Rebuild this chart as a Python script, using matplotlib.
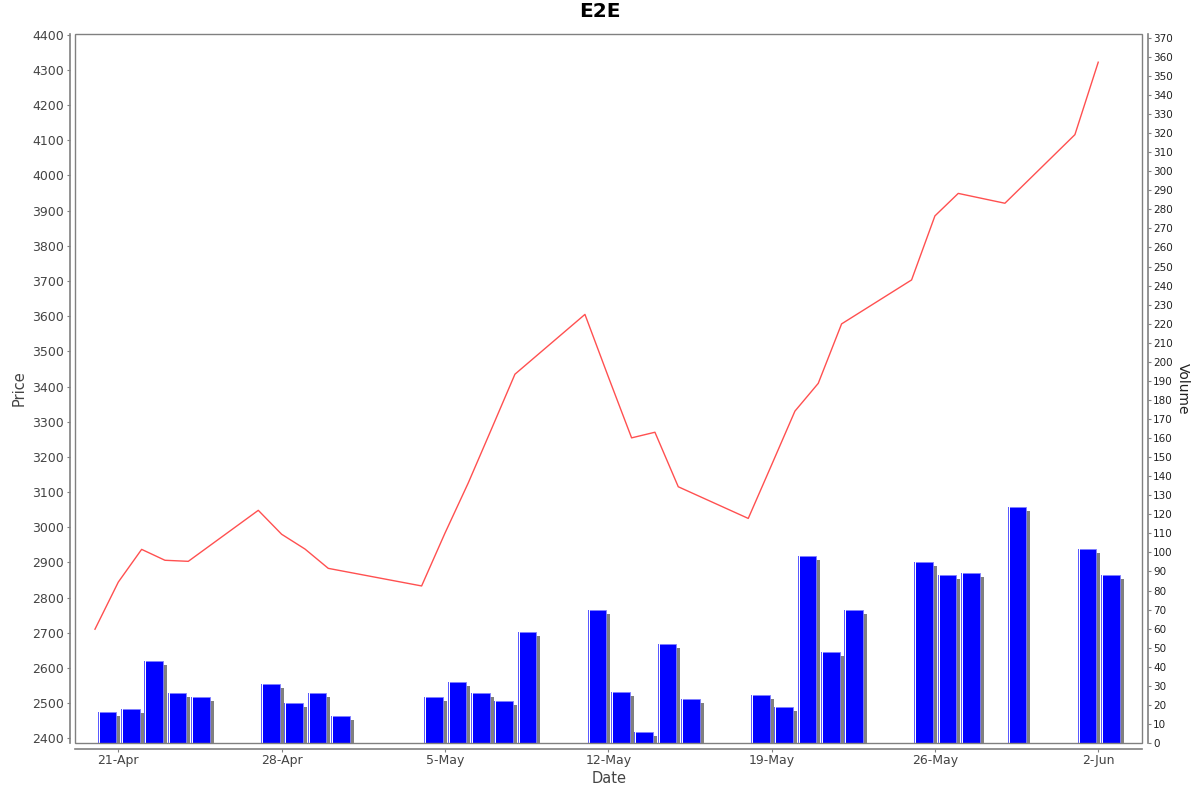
import numpy as np
import matplotlib
matplotlib.use('Agg')
import matplotlib.pyplot as plt
import matplotlib.dates as mdates
import matplotlib.transforms as mtrans
from matplotlib.patches import Rectangle

# trading days (Apr 20 - Jun 2)
dates = ['2020-04-20', '2020-04-21', '2020-04-22', '2020-04-23', '2020-04-24',
         '2020-04-27', '2020-04-28', '2020-04-29', '2020-04-30',
         '2020-05-04', '2020-05-05', '2020-05-06', '2020-05-07', '2020-05-08',
         '2020-05-11', '2020-05-12', '2020-05-13', '2020-05-14', '2020-05-15',
         '2020-05-18', '2020-05-19', '2020-05-20', '2020-05-21', '2020-05-22',
         '2020-05-25', '2020-05-26', '2020-05-27', '2020-05-29',
         '2020-06-01', '2020-06-02']
price = [2710, 2844, 2937, 2906, 2903,
         3048, 2980, 2938, 2883,
         2833, 2983, 3126, 3280, 3435,
         3605, 3428, 3254, 3270, 3115,
         3025, 3177, 3330, 3409, 3578,
         3703, 3885, 3949, 3921,
         4116, 4322]
volume = [16, 18, 43, 26, 24,
          31, 21, 26, 14,
          24, 32, 26, 22, 58,
          70, 27, 6, 52, 23,
          25, 19, 98, 48, 70,
          95, 88, 89, 124,
          102, 88]

x = mdates.date2num(np.array(dates, dtype='datetime64[D]'))
vol = np.array(volume)

fig = plt.figure(figsize=(12, 7.92), dpi=100)
ax = fig.add_axes([0.06275, 0.0619, 0.889, 0.8951])
ax2 = ax.twinx()

grey = '#808080'

# volume bars with shadow (JFreeChart look)
shift = mtrans.ScaledTranslation(4 / 100, -4 / 100, fig.dpi_scale_trans)
shadow = ax2.bar(x + 0.115, vol, width=0.8, align='edge', color='#808080', linewidth=0)
for p in shadow:
    p.set_transform(ax2.transData + shift)
ax2.bar(x + 0.115, vol, width=0.8, align='edge', color='#0000ff',
        edgecolor='#8080ff', linewidth=0.6)
ax2.bar(x + 0.115, vol, width=0.045, align='edge', color='#5a5aff', linewidth=0)
ax2.bar(x + 0.16, vol, width=0.04, align='edge', color='white', linewidth=0)

# price line
ax.plot(x, price, color='#ff5050', linewidth=1.0)
ax.set_zorder(ax2.get_zorder() + 1)
ax.patch.set_visible(False)

ax.set_xlim(mdates.date2num(np.datetime64('2020-04-19')) + 0.157,
            mdates.date2num(np.datetime64('2020-06-03')) + 0.88)
ax.set_ylim(2386.6, 4402)
ax2.set_ylim(0, 372)

ax.set_yticks(np.arange(2400, 4401, 100))
ax2.set_yticks(np.arange(0, 371, 10))
ax.xaxis.set_major_locator(mdates.WeekdayLocator(byweekday=mdates.TU))
ax.xaxis.set_major_formatter(
    plt.FuncFormatter(lambda v, pos: '%d-%s' % (mdates.num2date(v).day,
                                                  mdates.num2date(v).strftime('%b'))))

# axes lines offset from plot outline
for a in (ax, ax2):
    for s in a.spines.values():
        s.set_visible(False)
ax.spines['left'].set_visible(True)
ax.spines['bottom'].set_visible(True)
ax2.spines['right'].set_visible(True)
ax.spines['left'].set_position(('outward', 4))
ax.spines['bottom'].set_position(('outward', 4))
ax2.spines['right'].set_position(('outward', 4))
for s in (ax.spines['left'], ax.spines['bottom'], ax2.spines['right']):
    s.set_color(grey)
    s.set_linewidth(1.2)

fig.add_artist(Rectangle((0, 0), 1, 1, transform=ax.transAxes, fill=False,
                         edgecolor=grey, linewidth=1.0, zorder=10))

ax.tick_params(axis='y', direction='out', length=2, color=grey, labelsize=9,
               labelcolor='#444444', pad=2)
ax.tick_params(axis='x', direction='out', length=2, color=grey, labelsize=9,
               labelcolor='#444444', pad=2)
ax2.tick_params(axis='y', direction='out', length=2, color=grey, labelsize=7.5,
                labelcolor='#222222', pad=2)

ax.set_ylabel('Price', fontsize=10.5, color='#444444', labelpad=4)
ax.set_xlabel('Date', fontsize=10.5, color='#444444', labelpad=3)
ax2.set_ylabel('Volume', fontsize=10, color='#222222', rotation=-90, labelpad=12)

fig.suptitle('E2E', fontsize=14.5, fontweight='bold', y=0.997, va='top')

fig.savefig('out.png', dpi=100)
